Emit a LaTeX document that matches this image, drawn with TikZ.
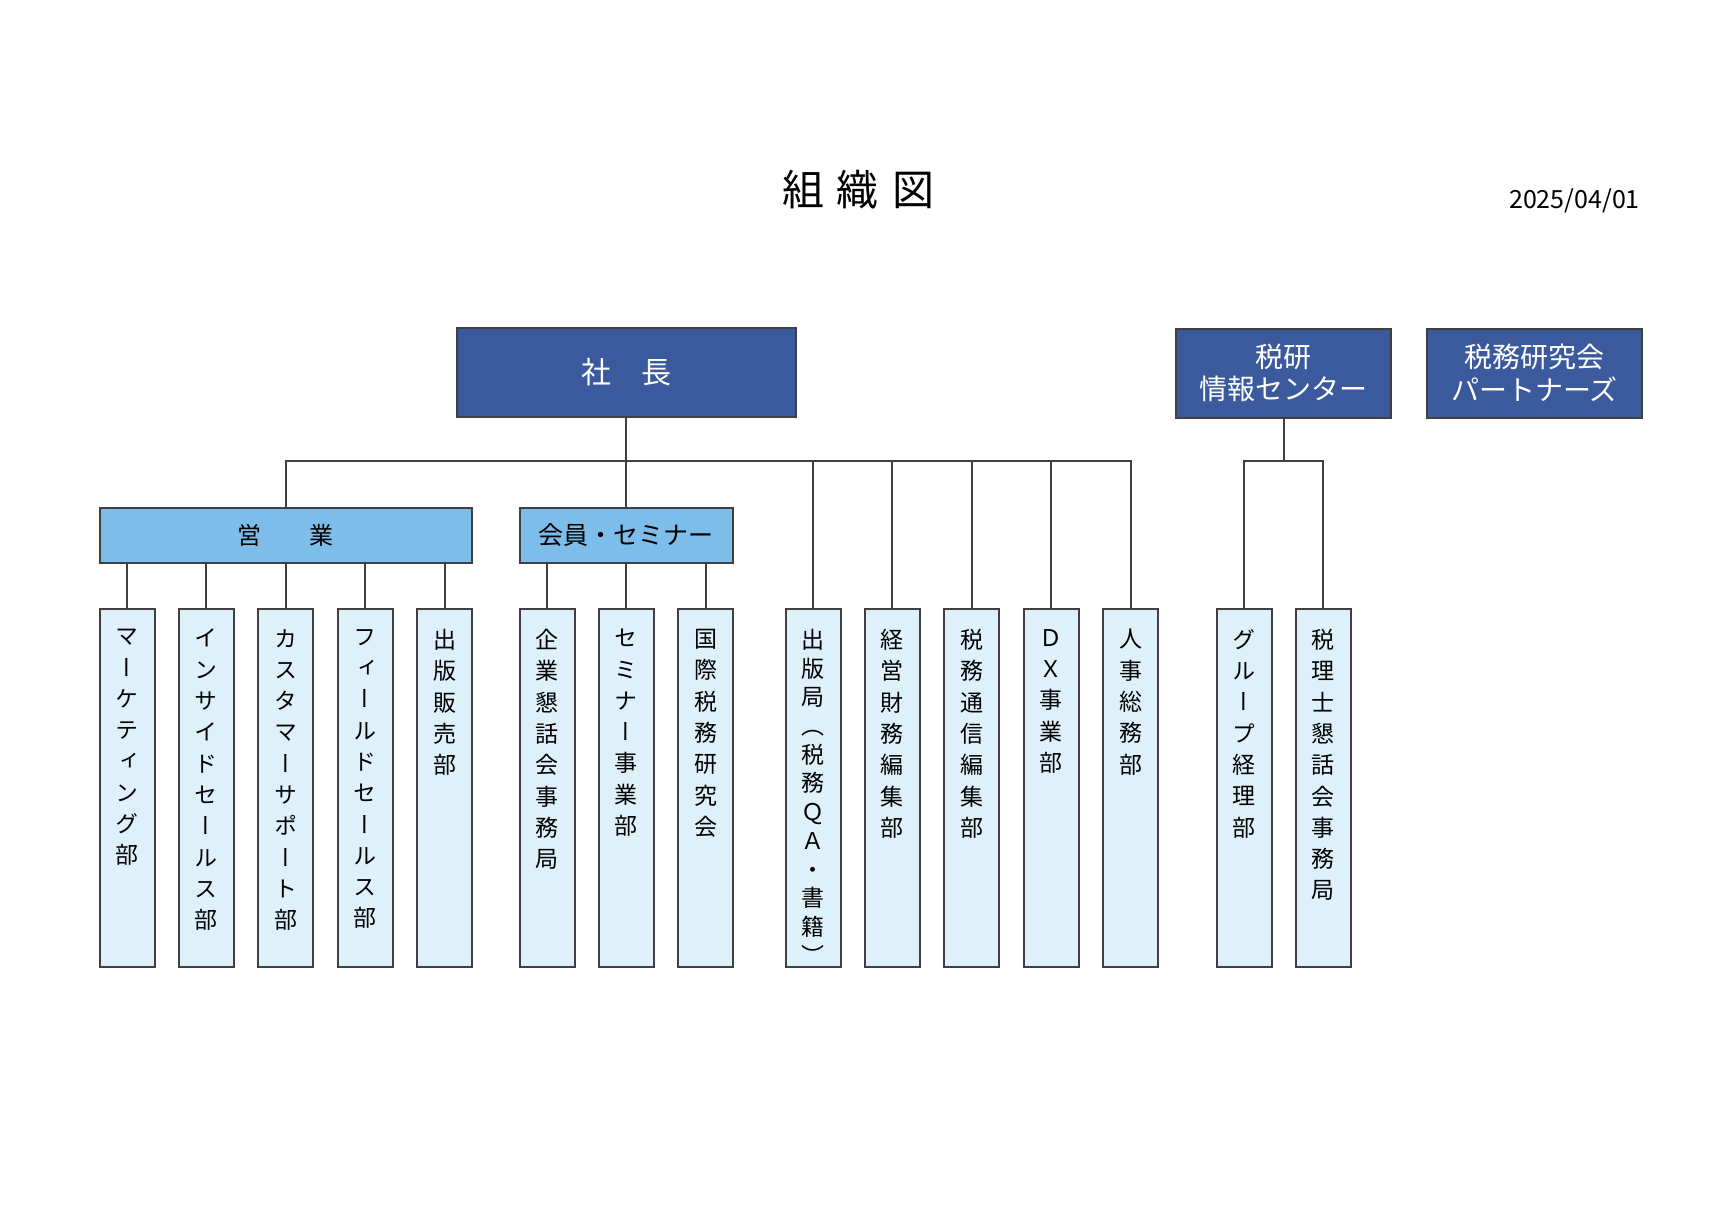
\documentclass[tikz,border=0pt]{standalone}
\usepackage{fontspec}
\setmainfont{Noto Sans CJK JP}
\newfontfamily\tatefont[RawFeature=+vert]{Noto Sans CJK JP}
\definecolor{topblue}{RGB}{59,90,158}
\definecolor{midblue}{RGB}{124,189,233}
\definecolor{paleblue}{RGB}{222,240,250}
\definecolor{linegray}{RGB}{64,64,64}

\begin{document}
\begin{tikzpicture}[x=1bp,y=-1bp,
	every node/.style={inner sep=0pt},
	topbox/.style={draw=linegray,line width=2bp,fill=topblue,text=white,minimum height=89bp,align=center,font=\fontsize{28bp}{32.7bp}\selectfont},
	divbox/.style={draw=linegray,line width=2bp,fill=midblue,minimum height=55bp,font=\fontsize{24bp}{30bp}\selectfont},
	deptbox/.style={draw=linegray,line width=2bp,fill=paleblue,minimum width=55bp,minimum height=358bp,anchor=north},
	tatetext/.style={anchor=north,align=center,font=\tatefont\fontsize{23bp}{31.3bp}\selectfont},
	conn/.style={draw=linegray,line width=2bp}]
	\useasboundingbox (0,0) rectangle (1719,1226);

	\node[font=\fontsize{42bp}{50bp}\selectfont] (title) at (858,190) {組\hspace{13bp}織\hspace{13bp}図};
	\node[anchor=base east,font=\fontsize{25bp}{30bp}\selectfont] (date) at (1640,208.3) {2025/04/01};

	\node[topbox,minimum width=338.5bp,font=\fontsize{30bp}{36bp}\selectfont] (pres) at (626.4,372.5) {社　長};
	\node[topbox,minimum width=214.5bp] (zkc)      at (1283.7,373) {税研\\情報センター};
	\node[topbox,minimum width=214.5bp] (partners) at (1534.3,373) {税務研究会\\パートナーズ};

	\node[divbox,minimum width=372.5bp] (sales)  at (285.8,535) {営　　業};
	\node[divbox,minimum width=213.8bp,font=\fontsize{25bp}{30bp}\selectfont] (member) at (626.4,535) {会員・セミナー};

	\node[deptbox] (mkt)      at (127,608.3)    {};
	\node[deptbox] (inside)   at (206.4,608.3)  {};
	\node[deptbox] (support)  at (285.8,608.3)  {};
	\node[deptbox] (field)    at (365.2,608.3)  {};
	\node[deptbox] (pubsales) at (444.6,608.3)  {};
	\node[deptbox] (kondan)   at (547,608.3)    {};
	\node[deptbox] (seminar)  at (626.4,608.3)  {};
	\node[deptbox] (intl)     at (705.8,608.3)  {};
	\node[deptbox] (pub)      at (813,608.3)    {};
	\node[deptbox] (keiei)    at (892.4,608.3)  {};
	\node[deptbox] (tsushin)  at (971.8,608.3)  {};
	\node[deptbox] (dx)       at (1051.2,608.3) {};
	\node[deptbox] (hr)       at (1130.6,608.3) {};
	\node[deptbox] (group)    at (1244,608.3)   {};
	\node[deptbox] (zeirishi) at (1323.4,608.3) {};

	\node[tatetext] (mkt-t)      at (127,629)    {マ\\ー\\ケ\\テ\\ィ\\ン\\グ\\部};
	\node[tatetext] (inside-t)   at (206.4,629)  {イ\\ン\\サ\\イ\\ド\\セ\\ー\\ル\\ス\\部};
	\node[tatetext] (support-t)  at (285.8,629)  {カ\\ス\\タ\\マ\\ー\\サ\\ポ\\ー\\ト\\部};
	\node[tatetext] (field-t)    at (365.2,629)  {フ\\ィ\\ー\\ル\\ド\\セ\\ー\\ル\\ス\\部};
	\node[tatetext] (pubsales-t) at (444.6,629)  {出\\版\\販\\売\\部};
	\node[tatetext] (kondan-t)   at (547,629)    {企\\業\\懇\\話\\会\\事\\務\\局};
	\node[tatetext] (seminar-t)  at (626.4,629)  {セ\\ミ\\ナ\\ー\\事\\業\\部};
	\node[tatetext] (intl-t)     at (705.8,629)  {国\\際\\税\\務\\研\\究\\会};
	\node[tatetext,font=\tatefont\fontsize{23bp}{28.7bp}\selectfont] (pub-t) at (813,629) {出\\版\\局\\（\\税\\務\\Ｑ\\Ａ\\・\\書\\籍\\）};
	\node[tatetext] (keiei-t)    at (892.4,629)  {経\\営\\財\\務\\編\\集\\部};
	\node[tatetext] (tsushin-t)  at (971.8,629)  {税\\務\\通\\信\\編\\集\\部};
	\node[tatetext] (dx-t)       at (1051.2,629) {Ｄ\\Ｘ\\事\\業\\部};
	\node[tatetext] (hr-t)       at (1130.6,629) {人\\事\\総\\務\\部};
	\node[tatetext] (group-t)    at (1244,629)   {グ\\ル\\ー\\プ\\経\\理\\部};
	\node[tatetext] (zeirishi-t) at (1323.4,629) {税\\理\\士\\懇\\話\\会\\事\\務\\局};

	% main line
	\coordinate (bus) at (626.4,461);
	\draw[conn] (pres) -- (member);
	\draw[conn] (sales.north) |- (hr.north |- bus) -- (hr.north);
	\draw[conn] (pub.north) -- (pub.north |- bus);
	\draw[conn] (keiei.north) -- (keiei.north |- bus);
	\draw[conn] (tsushin.north) -- (tsushin.north |- bus);
	\draw[conn] (dx.north) -- (dx.north |- bus);

	% sales / member
	\draw[conn] (mkt.north) -- (mkt.north |- sales.south);
	\draw[conn] (inside.north) -- (inside.north |- sales.south);
	\draw[conn] (support.north) -- (sales.south);
	\draw[conn] (field.north) -- (field.north |- sales.south);
	\draw[conn] (pubsales.north) -- (pubsales.north |- sales.south);
	\draw[conn] (kondan.north) -- (kondan.north |- member.south);
	\draw[conn] (seminar.north) -- (member.south);
	\draw[conn] (intl.north) -- (intl.north |- member.south);

	% zeiken
	\coordinate (bus2) at (1283.7,461);
	\draw[conn] (zkc.south) -- (bus2);
	\draw[conn] (group.north) |- (zeirishi.north |- bus2) -- (zeirishi.north);
\end{tikzpicture}
\end{document}
